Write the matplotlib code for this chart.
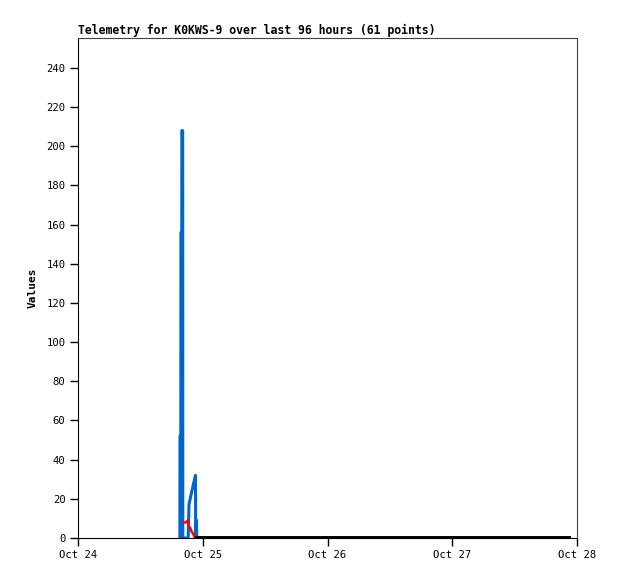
import matplotlib
matplotlib.use("Agg")
import matplotlib.pyplot as plt

# hours since Oct 24 00:00
blue_t = [19.6, 19.62, 19.78, 19.8, 19.96, 19.98, 20.14, 20.16, 21.2, 21.35, 21.5, 21.75, 22.0, 22.25, 22.45, 22.6, 22.65, 22.8, 22.85, 94.5]
blue_v = [0, 52, 52, 156, 156, 208, 208, 0, 0, 17, 19, 22, 25, 28, 30, 32, 0, 9, 0, 0]

red_t = [20.4, 20.8, 21.1, 21.3, 21.6, 21.9, 22.2, 22.5, 94.5]
red_v = [8, 8, 9, 6, 5, 3, 2, 0, 0]

black_t = [22.8, 94.5]
black_v = [0, 0]

xtick_pos = [0, 24, 48, 72, 96]
xtick_labels = ["Oct 24", "Oct 25", "Oct 26", "Oct 27", "Oct 28"]
yticks = list(range(0, 241, 20))

title = "Telemetry for K0KWS-9 over last 96 hours (61 points)"

mono = ["DejaVu Sans Mono"]

fig = plt.figure(figsize=(6.18, 5.79), dpi=100)
ax = fig.add_axes([78/618, 41/579, 499/618, 500/579])

ax.plot(blue_t, blue_v, color="#0066CC", lw=2.2)
ax.plot(red_t, red_v, color="#FF0000", lw=1.8)
ax.plot(black_t, black_v, color="#000000", lw=2.8)

ax.set_xlim(0, 96)
ax.set_ylim(0, 255.3)
ax.set_xticks(xtick_pos)
ax.set_xticklabels(xtick_labels, family=mono, fontsize=7.6)
ax.set_yticks(yticks)
ax.set_yticklabels([str(v) for v in yticks], family=mono, fontsize=7.6)
ax.tick_params(direction="out", length=6, width=1, color="black", pad=3)

for s in ["left", "bottom"]:
    ax.spines[s].set_color("black")
for s in ["top", "right"]:
    ax.spines[s].set_color("#444444")

ax.set_ylabel("Values", family=mono, fontweight="bold", fontsize=8, labelpad=6)
ax.set_title(title, family=mono, fontweight="bold", fontsize=8.3, loc="left", pad=3)

fig.savefig("out.png", dpi=100)
